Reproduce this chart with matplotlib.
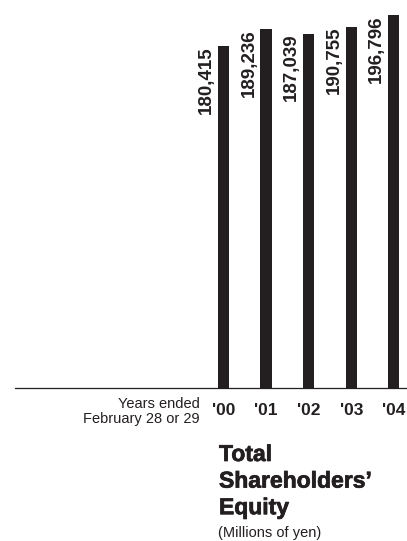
import matplotlib.pyplot as plt
import matplotlib.patheffects as pe

plt.rcParams['font.family'] = ['Liberation Sans', 'DejaVu Sans']

# Total shareholders' equity, millions of yen
years = ["'00", "'01", "'02", "'03", "'04"]
equity = [180415, 189236, 187039, 190755, 196796]

ink = '#231f20'

fig = plt.figure(figsize=(4.07, 5.41), dpi=100)
W, H = 407, 541

# axes: baseline at y=388px, spans x=15..407px
ax = fig.add_axes([15 / W, (H - 388) / H, 392 / W, 388 / H])
pos = list(range(len(years)))
ax.bar(pos, equity, width=0.26, color=ink)
ax.set_xlim(-4.894, 4.31)
ax.set_ylim(0, 204750)

for s in ['top', 'right', 'left']:
    ax.spines[s].set_visible(False)
ax.spines['bottom'].set_color(ink)
ax.spines['bottom'].set_linewidth(0.9)
ax.set_yticks([])
ax.set_xticks(pos)
ax.set_xticklabels(years, fontsize=12.5, fontweight='bold', color=ink)
ax.tick_params(axis='x', length=0, pad=11)

for x, v in zip(pos, equity):
    ax.text(x - 0.2, v, f'{v:,}', rotation=90, ha='right', va='top',
            fontsize=13.5, fontweight='bold', color=ink)

fig.text(200 / W, 1 - 397 / H, 'Years ended\nFebruary 28 or 29', ha='right', va='top',
         fontsize=10.5, color=ink, linespacing=1.05)

# heavy title: bold plus a thin outline in the same colour
fig.text(219 / W, 1 - 443 / H, 'Total\nShareholders\u2019\nEquity', ha='left', va='top',
         fontsize=16.5, fontweight='bold', color=ink, linespacing=1.2,
         path_effects=[pe.withStroke(linewidth=0.5, foreground=ink)])
fig.text(218 / W, 1 - 526 / H, '(Millions of yen)', ha='left', va='top',
         fontsize=10.5, color=ink)

fig.savefig('out.png', dpi=100)
